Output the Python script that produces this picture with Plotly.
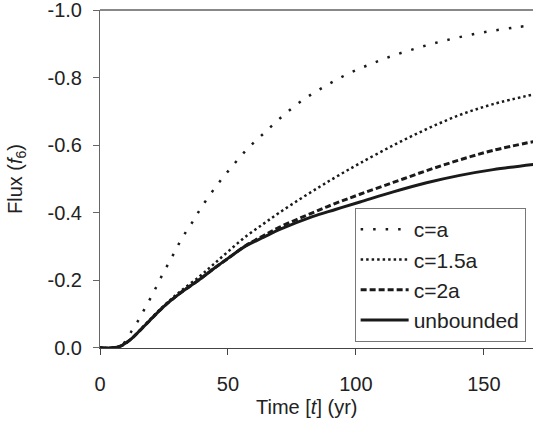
import plotly.graph_objects as go

# Time (yr) and flux values
t_ca = [0, 5, 8, 9.8, 12.4, 15.1, 17.4, 19.8, 22.1, 24.2, 26.6, 28.9, 31.25, 33.8, 36.5, 39.1, 45,
        50.8, 57.3, 64.5, 71.7, 79.4, 87.7, 96.4, 105.5, 114.6, 124.3, 133.5, 143.2, 153, 162.8, 170]
f_ca = [0, 0, -0.005, -0.018, -0.05, -0.083, -0.115, -0.148, -0.182, -0.214, -0.248, -0.28, -0.314,
        -0.346, -0.377, -0.41, -0.475, -0.53, -0.587, -0.639, -0.689, -0.735, -0.774, -0.81, -0.840,
        -0.866, -0.889, -0.908, -0.925, -0.939, -0.95, -0.957]

t_c15 = [0, 5, 8, 12, 18, 25, 31, 39, 44, 50, 57, 64, 70, 78, 86, 93, 101.6, 114.6, 127.6, 140.6, 153.6, 170]
f_c15 = [0, 0, -0.005, -0.025, -0.072, -0.125, -0.165, -0.212, -0.245, -0.285, -0.33, -0.368, -0.40,
         -0.44, -0.478, -0.51, -0.547, -0.600, -0.648, -0.69, -0.722, -0.752]

t_c2 = [0, 5, 8, 12, 18, 25, 31, 39, 44, 50, 57, 64, 70, 83, 92, 101.6, 114.6, 127.6, 140.6, 153.6, 170]
f_c2 = [0, 0, -0.005, -0.025, -0.07, -0.123, -0.16, -0.203, -0.232, -0.265, -0.303, -0.333, -0.357,
        -0.40, -0.428, -0.455, -0.49, -0.525, -0.557, -0.585, -0.612]

t_unb = [0, 5, 8, 12, 18, 25, 31, 39, 44, 50, 57, 64, 70, 83, 92, 101.6, 114.6, 127.6, 140.6, 153.6, 170]
f_unb = [0, 0, -0.005, -0.025, -0.07, -0.123, -0.16, -0.203, -0.232, -0.265, -0.302, -0.328, -0.35,
         -0.389, -0.41, -0.432, -0.462, -0.489, -0.511, -0.528, -0.544]

series_names = ["c=a", "c=1.5a", "c=2a", "unbounded"]

x_ticks = [0, 50, 100, 150]
x_ticktext = ["0", "50", "100", "150"]
y_ticks = [0, -0.2, -0.4, -0.6, -0.8, -1.0]
y_ticktext = ["0.0", "-0.2", "-0.4", "-0.6", "-0.8", "-1.0"]

FONT = "Liberation Sans, Arial, sans-serif"
INK = "#1a1a1a"

fig = go.Figure()
styles = [
    dict(dash="2.5px,10px", width=2.5),
    dict(dash="2.5px,3px", width=2.5),
    dict(dash="6px,3px", width=3),
    dict(dash="solid", width=3),
]
for (tt, ff), name, st in zip([(t_ca, f_ca), (t_c15, f_c15), (t_c2, f_c2), (t_unb, f_unb)],
                              series_names, styles):
    fig.add_trace(go.Scatter(x=tt, y=ff, mode="lines", name=name, line_shape="spline",
                             line=dict(color=INK, width=st["width"], dash=st["dash"])))

fig.update_layout(
    width=533, height=423, autosize=False,
    margin=dict(l=100, r=0, t=10, b=75),
    paper_bgcolor="white", plot_bgcolor="white",
    font=dict(family=FONT, size=20, color="#222"),
    showlegend=True,
    legend=dict(x=0.983, y=(348 - 342) / 338, xanchor="right", yanchor="bottom",
                bgcolor="white", bordercolor="#777", borderwidth=1, itemwidth=48,
                font=dict(size=21, color="#222"), tracegroupgap=0),
    xaxis=dict(range=[0, 169.2], tickvals=x_ticks, ticktext=x_ticktext,
               showline=True, linecolor="#444", linewidth=1, ticks="outside",
               ticklen=6, tickcolor="#444", showgrid=False, zeroline=False,
               ticklabelstandoff=12, ticklabeloverflow="allow"),
    yaxis=dict(range=[0.0005, -1.001], tickvals=y_ticks, ticktext=y_ticktext,
               showline=True, linecolor="#666", linewidth=1, ticks="outside",
               ticklen=6, tickcolor="#666", showgrid=False, zeroline=False,
               ticklabelstandoff=7, ticklabeloverflow="allow"),
    shapes=[dict(type="line", xref="paper", yref="paper", x0=0, x1=1, y0=1, y1=1,
                 line=dict(color="#888", width=2))],
    annotations=[
        dict(text="Time [<i>t</i>] (yr)", xref="paper", yref="paper",
             x=(306 - 100) / 433, y=(348 - 407) / 338, xanchor="center", yanchor="middle",
             showarrow=False, font=dict(size=20, color="#222")),
        dict(text="Flux (<i>f</i><sub>6</sub>)", xref="paper", yref="paper",
             x=(16 - 100) / 433, y=0.5, xanchor="center", yanchor="middle", textangle=-90,
             showarrow=False, font=dict(size=20, color="#222")),
    ],
)

fig.write_html("out.html", config={"displayModeBar": False},
               post_script="document.body.style.margin='0';")
